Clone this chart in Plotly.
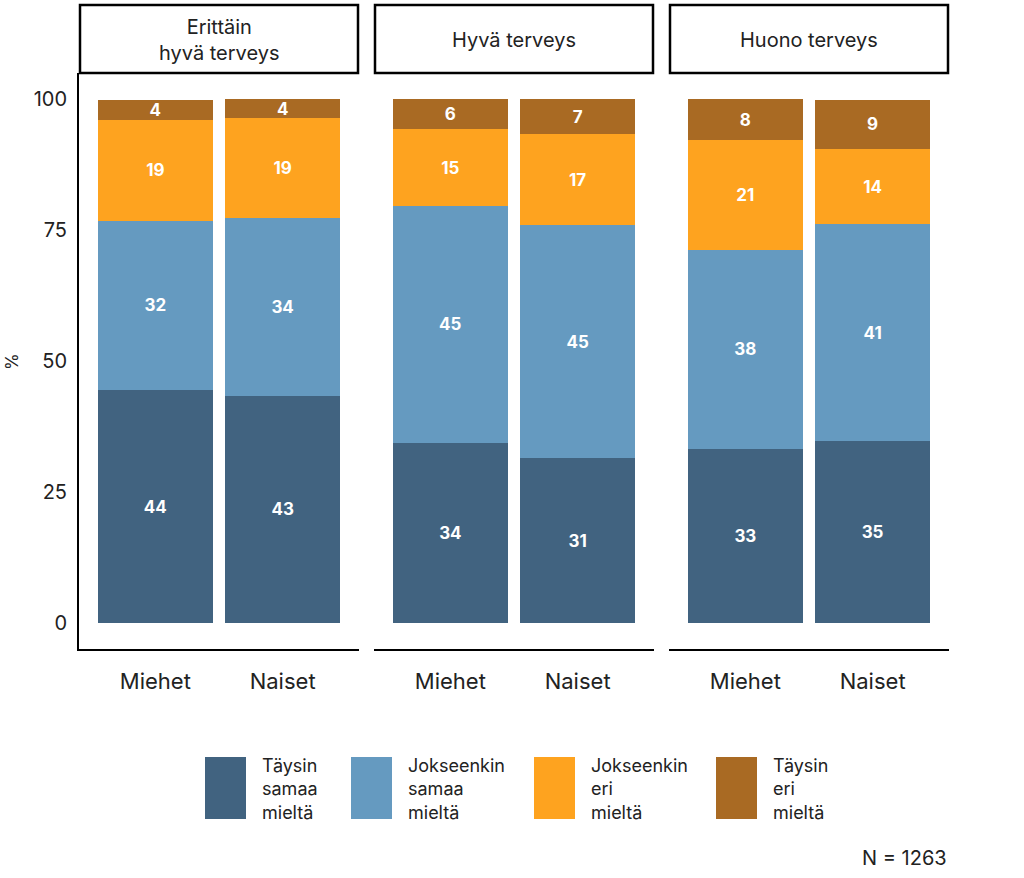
import plotly.graph_objects as go

panels = ["Erittäin<br>hyvä terveys", "Hyvä terveys", "Huono terveys"]
genders = ["Miehet", "Naiset"]
categories = ["Täysin<br>samaa<br>mieltä", "Jokseenkin<br>samaa<br>mieltä", "Jokseenkin<br>eri<br>mieltä", "Täysin<br>eri<br>mieltä"]
colors = ["#416380", "#659AC0", "#FEA31F", "#A96A23"]

# values[panel] = [Miehet, Naiset]
taysin_samaa = [[44.4, 43.3], [34.4, 31.4], [33.2, 34.7]]
jokseenkin_samaa = [[32.4, 34.0], [45.2, 44.6], [38.0, 41.4]]
jokseenkin_eri = [[19.3, 19.1], [14.7, 17.3], [21.0, 14.4]]
taysin_eri = [[3.8, 3.6], [5.7, 6.7], [7.8, 9.4]]
series = [taysin_samaa, jokseenkin_samaa, jokseenkin_eri, taysin_eri]

y_ticks = [0, 25, 50, 75, 100]
n_text = "N = 1263"

FONT = "Inter"
W, H = 1024, 878
px = lambda v: v / W
py = lambda v: 1 - v / H

x_doms = [(79, 359), (374, 654), (669, 949)]
y_dom = [py(649), py(73)]

fig = go.Figure()
for p in range(3):
    xa = "x" if p == 0 else f"x{p+1}"
    for c in range(4):
        vals = series[c][p]
        fig.add_trace(go.Bar(
            x=[1, 2], y=vals, width=0.9, xaxis=xa, yaxis="y",
            marker=dict(color=colors[c], line=dict(width=0)),
            text=[f"<b>{int(v + 0.5)}</b>" for v in vals],
            textposition="inside", insidetextanchor="middle",
            constraintext="none", textangle=0,
            textfont=dict(color="white", size=17, family=FONT),
            showlegend=False, hoverinfo="skip",
        ))

layout = dict(
    width=W, height=H, barmode="stack",
    margin=dict(l=0, r=0, t=0, b=0),
    plot_bgcolor="white", paper_bgcolor="white",
    font=dict(family=FONT, color="#222"),
    yaxis=dict(domain=y_dom, range=[-5, 105], tickvals=y_ticks,
               showgrid=False, zeroline=False, showline=True,
               linecolor="black", linewidth=2, anchor="x",
               ticks="", ticklabelstandoff=6,
               tickfont=dict(size=20, color="#222", family=FONT)),
)
for p in range(3):
    key = "xaxis" if p == 0 else f"xaxis{p+1}"
    layout[key] = dict(domain=[px(x_doms[p][0]), px(x_doms[p][1])],
                       range=[0.4, 2.6], tickvals=[1, 2], ticktext=genders,
                       showgrid=False, zeroline=False, showline=True,
                       linecolor="black", linewidth=2, anchor="y",
                       ticks="", ticklabelstandoff=12,
                       tickfont=dict(size=22, color="#222", family=FONT))
fig.update_layout(**layout)

shapes = []
annotations = []
for p in range(3):
    x0, x1 = x_doms[p]
    shapes.append(dict(type="rect", xref="paper", yref="paper",
                       x0=px(x0 + 1), x1=px(x1 - 1), y0=py(73), y1=py(5),
                       line=dict(color="black", width=2.5), fillcolor="white"))
    annotations.append(dict(xref="paper", yref="paper", x=px((x0 + x1) / 2), y=py(40),
                            text=panels[p], showarrow=False, xanchor="center", yanchor="middle",
                            font=dict(size=20, color="#222", family=FONT)))

annotations.append(dict(xref="paper", yref="paper", x=px(12), y=py(362), text="%",
                        textangle=-90, showarrow=False, xanchor="center", yanchor="middle",
                        font=dict(size=17, color="#222", family=FONT)))

leg_x = [205, 351, 534, 716]
for i, cat in enumerate(categories):
    shapes.append(dict(type="rect", xref="paper", yref="paper",
                       x0=px(leg_x[i]), x1=px(leg_x[i] + 41), y0=py(819), y1=py(757),
                       line=dict(width=0), fillcolor=colors[i]))
    annotations.append(dict(xref="paper", yref="paper", x=px(leg_x[i] + 55), y=py(789),
                            text=cat, showarrow=False, xanchor="left", yanchor="middle",
                            align="left",
                            font=dict(size=18, color="#222", family=FONT)))

annotations.append(dict(xref="paper", yref="paper", x=px(949), y=py(858), text=n_text,
                        showarrow=False, xanchor="right", yanchor="middle",
                        font=dict(size=20, color="#222", family=FONT)))

fig.update_layout(shapes=shapes, annotations=annotations)
fig.write_html("out.html")
